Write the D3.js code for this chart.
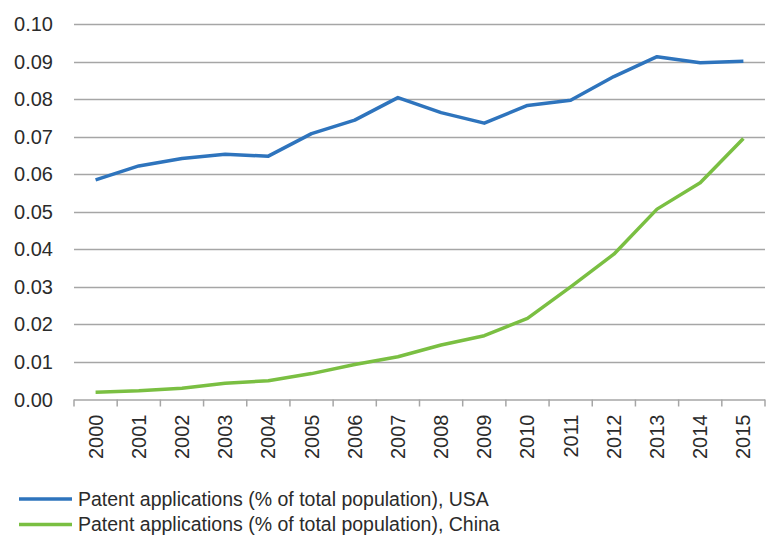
<!DOCTYPE html>
<html>
<head>
<meta charset="utf-8">
<script src="https://cdn.jsdelivr.net/npm/d3@7"></script>
<style>
  html, body { margin: 0; padding: 0; background: #fff; }
  svg { display: block; }
  text { font-family: "Liberation Sans", Arial, sans-serif; fill: #2b2b2b; }
</style>
</head>
<body>
<svg id="chart" width="766" height="536"></svg>
<script>
const years = ["2000","2001","2002","2003","2004","2005","2006","2007","2008","2009","2010","2011","2012","2013","2014","2015"];
const usaValues = [0.0585,0.0622,0.0642,0.0653,0.0648,0.0708,0.0744,0.0804,0.0764,0.0736,0.0783,0.0797,0.0860,0.0913,0.0897,0.0901];
const chinaValues = [0.0019,0.0023,0.0030,0.0043,0.0050,0.0069,0.0093,0.0114,0.0145,0.0170,0.0216,0.0300,0.0387,0.0507,0.0577,0.0695];
const yTicks = [0,0.01,0.02,0.03,0.04,0.05,0.06,0.07,0.08,0.09,0.10];
const seriesNames = ["Patent applications (% of total population), USA","Patent applications (% of total population), China"];
const seriesColors = ["#2e74bd","#7abf42"];

const svg = d3.select("#chart");
const plotLeft = 74, plotRight = 765, plotTop = 24, plotBottom = 399.5;

const x = d3.scaleBand().domain(years).range([plotLeft, plotRight]).padding(0);
const y = d3.scaleLinear().domain([0, 0.10]).range([plotBottom, plotTop]);

// gridlines
svg.append("g")
  .selectAll("line")
  .data(yTicks.filter(d => d > 0))
  .join("line")
  .attr("x1", plotLeft).attr("x2", plotRight)
  .attr("y1", d => Math.round(y(d)) + 0.5).attr("y2", d => Math.round(y(d)) + 0.5)
  .attr("stroke", "#a6a6a6").attr("stroke-width", 1.3);

// y labels
svg.append("g")
  .selectAll("text")
  .data(yTicks)
  .join("text")
  .attr("x", 53)
  .attr("y", d => y(d))
  .attr("dy", "0.35em")
  .attr("text-anchor", "end")
  .style("font-size", "20px")
  .text(d => d3.format(".2f")(d));

// x axis
const xAxisG = svg.append("g").attr("transform", `translate(0,${plotBottom})`);
xAxisG.append("line").attr("x1", plotLeft).attr("x2", plotRight).attr("y1", 0.5).attr("y2", 0.5)
  .attr("stroke", "#a6a6a6").attr("stroke-width", 1.5);
const bounds = years.map(d => x(d)).concat([plotRight]);
xAxisG.selectAll("line.tick").data(bounds).join("line").attr("class","tick")
  .attr("x1", d => d).attr("x2", d => d).attr("y1", 0).attr("y2", 7)
  .attr("stroke", "#a6a6a6").attr("stroke-width", 1.5);
xAxisG.selectAll("text").data(years).join("text")
  .attr("transform", d => `translate(${x(d) + x.bandwidth()/2},15) rotate(-90)`)
  .attr("text-anchor", "end")
  .attr("dy", "0.35em")
  .style("font-size", "20px")
  .text(d => d);

// lines
const line = d3.line().x((d, i) => x(years[i]) + x.bandwidth()/2).y(d => y(d));
[usaValues, chinaValues].forEach((vals, k) => {
  svg.append("path").datum(vals)
    .attr("d", line)
    .attr("fill", "none")
    .attr("stroke", seriesColors[k])
    .attr("stroke-width", 3.5)
    .attr("stroke-linejoin", "round");
});

// legend
const legY = [499, 524.5];
seriesNames.forEach((name, k) => {
  const g = svg.append("g");
  g.append("line").attr("x1", 19).attr("x2", 72).attr("y1", legY[k]).attr("y2", legY[k])
    .attr("stroke", seriesColors[k]).attr("stroke-width", 3.5);
  g.append("text").attr("x", 78).attr("y", legY[k]).attr("dy", "0.35em")
    .style("font-size", "19.5px").text(name);
});
</script>
</body>
</html>
